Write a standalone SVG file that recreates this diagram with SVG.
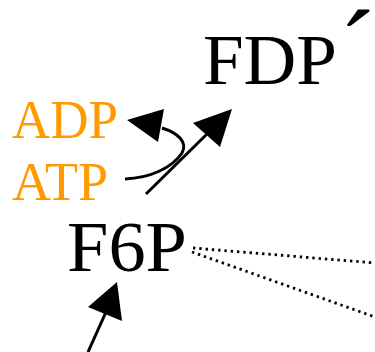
<svg xmlns="http://www.w3.org/2000/svg" width="375" height="352" viewBox="0 0 375 352">
<style>
.big{font-family:"Liberation Serif","Times New Roman",serif;font-size:72px;fill:#000}
.co{font-family:"Liberation Serif","Times New Roman",serif;font-size:54px;fill:#FF9A00}
.ln{stroke:#000;stroke-width:3;fill:none}
.dot{stroke:#000;stroke-width:2.8;fill:none;stroke-dasharray:2.4 3.9}
.hd{fill:#000}
</style>
<rect width="375" height="352" fill="#fff"/>
<g id="FDP"><text class="big" x="203" y="84"><tspan textLength="134" lengthAdjust="spacingAndGlyphs">FDP</tspan><tspan x="339" y="86" style="font-size:110px">´</tspan></text></g>
<g id="ADP"><text class="co" x="12" y="138" textLength="106" lengthAdjust="spacingAndGlyphs">ADP</text></g>
<g id="ATP"><text class="co" x="12" y="200">ATP</text></g>
<g id="F6P"><text class="big" x="67" y="271" textLength="120" lengthAdjust="spacingAndGlyphs">F6P</text></g>
<g id="connectors">
<path class="ln" d="M125,179 C150,178 172,168 182,153 C188,142 178,133 162,128"/>
<polygon class="hd" points="127,120 164,109 158,142"/>
<line class="ln" x1="146" y1="194" x2="208" y2="133"/>
<polygon class="hd" points="232,109 193,123 220,147"/>
<line class="ln" x1="88" y1="352" x2="106" y2="312"/>
<polygon class="hd" points="117,282 88,307 122,321"/>
<line class="dot" x1="193" y1="248" x2="375" y2="263"/>
<line class="dot" x1="192" y1="252" x2="375" y2="317"/>
</g>
</svg>
